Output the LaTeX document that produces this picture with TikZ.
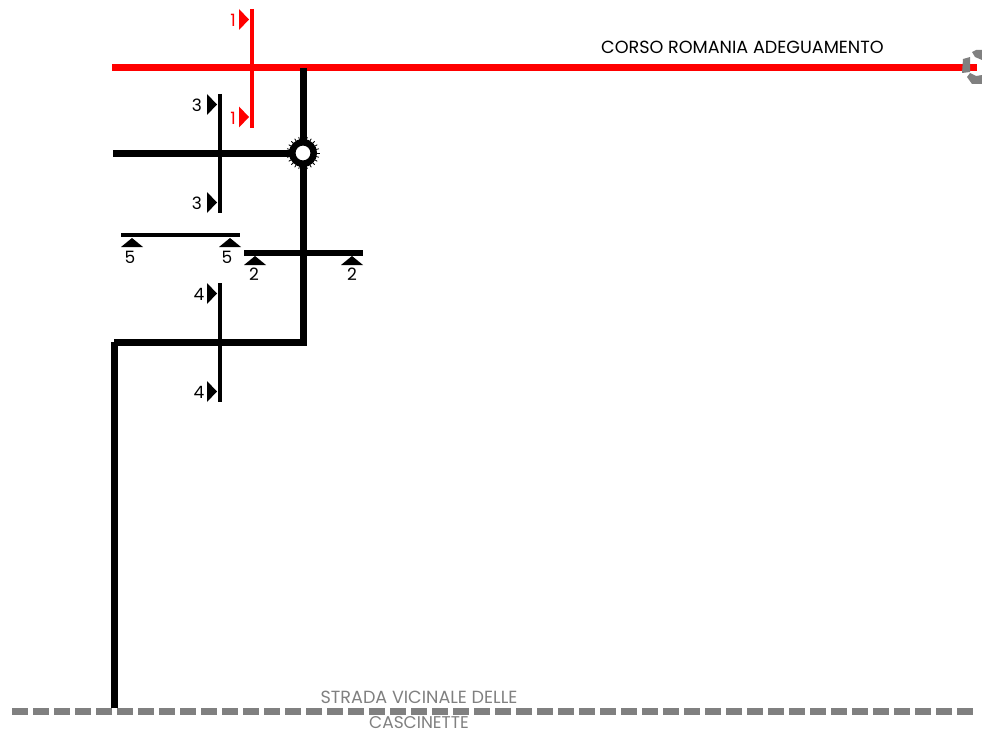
\documentclass[tikz,border=0pt]{standalone}
\usepackage{fontspec}
\setmainfont{Poppins}
\definecolor{roadgray}{gray}{0.5}
\tikzset{
    road/.style={line width=7pt, line join=miter},
    redroad/.style={road, red},
    side/.style={line width=7pt, roadgray, dash pattern=on 16pt off 5pt},
    secline/.style={line width=4pt},
    redline/.style={line width=4.5pt, red},
    num/.style={inner sep=0pt, font=\fontsize{17}{17}\selectfont},
    roadname/.style={inner sep=0pt, font=\fontsize{17.6}{17.6}\selectfont}
}
\newcommand{\secright}[3]{\fill[#3] (#1,#2) -- (#1+10,#2+10.5) -- (#1,#2+21) -- cycle;}
\newcommand{\secup}[2]{\fill (#1,#2) -- (#1+11,#2-9) -- (#1+22,#2) -- cycle;}
\begin{document}
\begin{tikzpicture}[x=1pt,y=-1pt]
    \useasboundingbox (0,0) rectangle (982,733);
    % roads
    \coordinate (sideL) at (12,711);
    \coordinate (sideR) at (976,711);
    \coordinate (mainL) at (112,68);
    \coordinate (mainR) at (977,68);
    \coordinate (junction) at (303,68);
    \coordinate (rbt) at (303,153);
    \coordinate (branchL) at (113,153);
    \coordinate (bendA) at (303,342);
    \coordinate (bendB) at (114,342);
    \coordinate (foot) at (114,708);
    \draw[road] (bendB) -- (foot);
    \draw[side] (sideL) -- (sideR);
    \draw[road] (branchL) -- (rbt);
    \draw[redroad] (mainL) -- (mainR);
    \draw[road] (junction) -- (bendA) -- (bendB);
    % section 1
    \coordinate (a1) at (252,9);
    \coordinate (a2) at (252,128);
    \draw[redline] (a1) -- (a2);
    \secright{239}{9}{red}
    \secright{239}{106.5}{red}
    \node[num, red] (one1) at (233,20) {1};
    \node[num, red] (one2) at (233,118) {1};
    % section 3
    \coordinate (c1) at (220,94);
    \coordinate (c2) at (220,213);
    \draw[secline] (c1) -- (c2);
    \secright{207}{94}{black}
    \secright{207}{192}{black}
    \node[num] (three1) at (197,105) {3};
    \node[num] (three2) at (197,203) {3};
    % section 4
    \coordinate (d1) at (220,283);
    \coordinate (d2) at (220,402);
    \draw[secline] (d1) -- (d2);
    \secright{207}{283}{black}
    \secright{207}{381}{black}
    \node[num] (four1) at (199,294) {4};
    \node[num] (four2) at (199,392) {4};
    % section 5
    \coordinate (e1) at (121,235);
    \coordinate (e2) at (240,235);
    \draw[line width=4.5pt] (e1) -- (e2);
    \secup{121}{247}
    \secup{219}{247}
    \node[num] (five1) at (130,257) {5};
    \node[num] (five2) at (227,257) {5};
    % section 2
    \coordinate (b1) at (244,253);
    \coordinate (b2) at (363,253);
    \draw[line width=6.5pt] (b1) -- (b2);
    \secup{244}{265}
    \secup{341}{265}
    \node[num] (two1) at (254,274) {2};
    \node[num] (two2) at (352,274) {2};
    % roundabout
    \foreach \a in {0,15,...,345}
        \draw[line width=0.8pt] (rbt) ++(\a:11) -- ++(\a:5.5);
    \node[circle, draw, fill=white, line width=6.5pt, minimum size=21.5pt, inner sep=0pt] (ring) at (rbt) {};
    % roundabout at the far end of the main road
    \fill[roadgray] (963,59) -- (970,57) -- (970,72) -- (962,73) -- cycle;
    \fill[roadgray] (972,52) -- (976,50) -- (982,50) -- (982,60) -- (975,57) -- cycle;
    \fill[roadgray] (967,77) -- (970,73) -- (976,76) -- (982,75) -- (982,84) -- (972,84) -- cycle;
    % labels
    \node[roadname, anchor=west] (corso) at (601,47) {CORSO ROMANIA ADEGUAMENTO};
    \node[roadname, roadgray] (strada) at (419,697) {STRADA VICINALE DELLE};
    \node[roadname, roadgray, font=\fontsize{17}{17}\selectfont] (cascinette) at (419,723) {CASCINETTE};
\end{tikzpicture}
\end{document}
